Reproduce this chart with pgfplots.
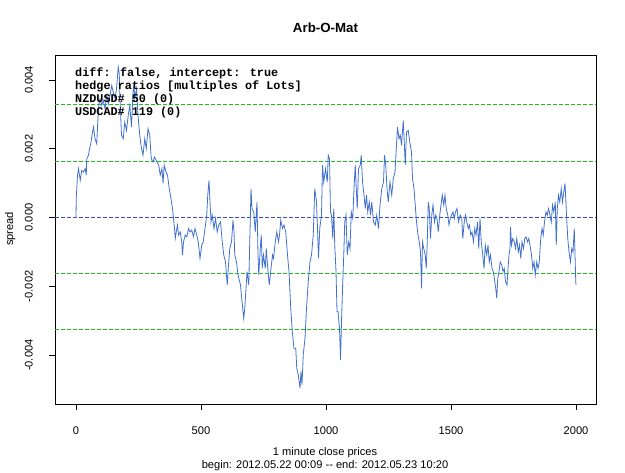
\documentclass[border=0pt]{standalone}
\usepackage{fontspec}
\setmainfont{Liberation Sans}
\newfontfamily\monofont{Liberation Mono}
\usepackage{pgfplots}
\pgfplotsset{compat=1.18}
\definecolor{spreadblue}{RGB}{66,112,205}
\definecolor{bandgreen}{RGB}{30,190,30}
\definecolor{zeroblue}{RGB}{50,80,190}
\begin{document}
\fontsize{11.1bp}{13bp}\selectfont
\begin{tikzpicture}[x=1bp,y=1bp]
\useasboundingbox (0,0) rectangle (625,473);
\begin{axis}[
  at={(55bp,69bp)}, anchor=south west,
  scale only axis, width=541bp, height=349bp,
  xmin=-84, xmax=2080, ymin=-0.005418, ymax=0.004722,
  axis line style={line width=0.8bp, black},
  tick align=outside, tick pos=left,
  major tick length=6bp,
  every tick/.style={black, line width=0.6bp},
  xtick={0,500,1000,1500,2000},
  xticklabels={0,500,1000,1500,2000},
  ytick={-0.004,-0.002,0,0.002,0.004},
  yticklabels={-0.004,-0.002,0.000,0.002,0.004},
  xticklabel style={inner sep=0pt, anchor=north},
  yticklabel style={inner sep=0pt, rotate=90, anchor=south},
  xticklabel shift=17bp,
  yticklabel shift=16bp,
  scaled y ticks=false,
  clip=true,
]
\addplot[color=bandgreen, line width=1.1bp, dash pattern=on 4bp off 2bp, empty line=jump] table {
x y
-84 0.00328
2080 0.00328

-84 0.00163
2080 0.00163

-84 -0.00163
2080 -0.00163

-84 -0.00326
2080 -0.00326
};
\addplot[color=zeroblue, line width=1.1bp, dash pattern=on 4bp off 2bp] coordinates {(-84,0) (2080,0)};
\addplot[color=spreadblue, line width=0.8bp] table {
x y
0 0.00000
1 0.00055
6 0.00123
10 0.00142
17 0.00108
23 0.00137
30 0.00132
37 0.00142
41 0.00123
43 0.00171
50 0.00181
54 0.00200
59 0.00214
64 0.00239
70 0.00263
76 0.00229
83 0.00214
87 0.00277
91 0.00326
96 0.00345
103 0.00326
109 0.00340
116 0.00316
123 0.00355
129 0.00330
136 0.00355
143 0.00384
149 0.00364
156 0.00345
162 0.00374
169 0.00437
173 0.00417
176 0.00345
182 0.00239
189 0.00229
195 0.00277
202 0.00253
209 0.00297
215 0.00326
222 0.00263
228 0.00364
232 0.00384
235 0.00345
242 0.00374
248 0.00297
255 0.00239
262 0.00200
268 0.00181
275 0.00229
281 0.00200
288 0.00258
295 0.00239
301 0.00171
308 0.00161
314 0.00176
324 0.00161
331 0.00152
337 0.00123
344 0.00142
348 0.00099
353 0.00152
360 0.00132
366 0.00123
373 0.00084
380 0.00055
386 0.00026
390 -0.00003
394 -0.00032
397 -0.00061
401 -0.00042
406 -0.00022
410 -0.00051
417 -0.00042
423 -0.00071
426 -0.00109
430 -0.00071
437 -0.00051
443 -0.00056
450 -0.00032
456 -0.00042
463 -0.00037
470 -0.00056
476 -0.00032
483 -0.00051
489 -0.00071
496 -0.00119
503 -0.00080
509 -0.00071
516 -0.00032
523 0.00007
527 0.00065
532 0.00108
536 0.00045
540 -0.00013
545 0.00007
552 -0.00032
558 -0.00003
565 -0.00042
571 -0.00022
578 -0.00013
585 -0.00071
591 -0.00109
598 -0.00129
605 -0.00196
609 -0.00148
615 -0.00090
622 -0.00071
628 -0.00008
632 -0.00042
635 -0.00109
642 -0.00129
648 -0.00167
658 -0.00196
664 -0.00244
671 -0.00293
675 -0.00264
680 -0.00206
684 -0.00157
691 -0.00196
695 -0.00071
700 0.00084
704 0.00026
711 0.00016
717 -0.00042
724 0.00045
728 -0.00109
731 -0.00167
737 -0.00090
741 -0.00051
745 -0.00148
750 -0.00109
757 -0.00148
761 -0.00090
766 -0.00138
773 -0.00196
780 -0.00148
786 -0.00109
790 -0.00119
797 -0.00071
803 -0.00042
810 -0.00071
814 -0.00051
819 -0.00008
826 -0.00032
832 -0.00022
839 -0.00042
846 -0.00109
852 -0.00157
859 -0.00264
865 -0.00331
872 -0.00380
879 -0.00380
883 -0.00438
889 -0.00457
896 -0.00496
900 -0.00447
904 -0.00486
909 -0.00399
916 -0.00351
922 -0.00264
929 -0.00186
936 -0.00129
942 -0.00109
949 -0.00051
955 0.00084
962 0.00045
966 -0.00032
970 -0.00119
975 -0.00032
982 0.00007
986 0.00152
991 0.00103
998 0.00142
1005 0.00103
1009 0.00181
1014 0.00171
1018 0.00016
1022 0.00007
1027 -0.00061
1031 0.00026
1035 -0.00080
1040 -0.00157
1044 -0.00273
1048 -0.00273
1054 -0.00322
1058 -0.00414
1062 -0.00302
1067 -0.00186
1071 -0.00109
1075 -0.00013
1080 0.00007
1085 -0.00109
1091 -0.00071
1096 -0.00090
1101 0.00016
1107 -0.00003
1112 0.00084
1117 0.00152
1121 0.00084
1125 0.00026
1130 0.00142
1137 0.00152
1141 0.00181
1146 0.00103
1152 0.00065
1157 0.00026
1162 0.00065
1167 0.00016
1173 0.00045
1178 0.00007
1183 0.00045
1190 -0.00013
1197 -0.00022
1203 0.00007
1210 -0.00032
1216 0.00036
1223 0.00084
1230 0.00103
1234 0.00181
1239 0.00152
1244 0.00084
1249 0.00045
1256 0.00103
1263 0.00065
1269 0.00113
1276 0.00132
1281 0.00200
1286 0.00263
1292 0.00229
1297 0.00239
1302 0.00210
1309 0.00282
1313 0.00219
1317 0.00152
1322 0.00248
1329 0.00253
1335 0.00220
1342 0.00190
1346 0.00113
1352 0.00084
1357 0.00036
1362 -0.00013
1368 -0.00051
1373 -0.00071
1378 -0.00100
1382 -0.00206
1386 -0.00071
1391 -0.00090
1397 -0.00109
1401 -0.00148
1405 -0.00071
1409 0.00045
1413 0.00026
1418 -0.00061
1423 0.00007
1428 0.00036
1434 -0.00013
1439 0.00007
1444 -0.00003
1449 -0.00042
1455 0.00007
1460 0.00036
1465 0.00065
1471 0.00036
1476 0.00065
1481 0.00026
1487 0.00007
1492 -0.00022
1497 -0.00003
1502 0.00007
1508 0.00016
1513 -0.00003
1518 0.00016
1524 0.00026
1530 -0.00013
1537 0.00007
1543 -0.00003
1547 -0.00061
1553 -0.00013
1558 0.00007
1563 -0.00013
1569 -0.00032
1574 -0.00022
1579 -0.00051
1584 -0.00042
1590 -0.00071
1595 -0.00032
1600 -0.00051
1606 -0.00013
1611 -0.00090
1616 -0.00003
1621 -0.00071
1627 -0.00109
1632 -0.00148
1637 -0.00080
1643 -0.00109
1648 -0.00080
1653 -0.00129
1658 -0.00109
1664 -0.00148
1669 -0.00157
1679 -0.00206
1683 -0.00235
1687 -0.00177
1692 -0.00157
1697 -0.00129
1703 -0.00138
1708 -0.00157
1713 -0.00148
1718 -0.00186
1724 -0.00196
1728 -0.00148
1732 -0.00109
1736 -0.00090
1738 -0.00027
1742 -0.00080
1747 -0.00061
1753 -0.00071
1758 -0.00090
1763 -0.00061
1769 -0.00100
1774 -0.00080
1779 -0.00119
1784 -0.00071
1790 -0.00090
1795 -0.00061
1800 -0.00056
1806 -0.00071
1811 -0.00061
1816 -0.00080
1822 -0.00109
1827 -0.00148
1832 -0.00129
1837 -0.00167
1843 -0.00129
1848 -0.00148
1853 -0.00129
1859 -0.00061
1864 -0.00032
1869 -0.00051
1874 -0.00013
1880 0.00016
1885 0.00007
1890 0.00026
1896 0.00007
1901 -0.00013
1906 0.00036
1911 0.00016
1917 0.00045
1921 -0.00080
1925 0.00026
1930 0.00065
1935 0.00045
1941 0.00084
1946 0.00045
1951 0.00074
1956 0.00099
1962 0.00007
1967 -0.00061
1972 -0.00100
1978 -0.00129
1983 -0.00090
1988 -0.00100
1993 -0.00032
1996 -0.00109
1999 -0.00186
2000 -0.00196
};
\end{axis}
% title and axis titles
\node[anchor=base, font=\fontsize{13.3bp}{15bp}\selectfont\bfseries] at (325.5,440) {Arb-O-Mat};
\node[rotate=90, anchor=center] at (10.3,244) {spread};
\node[anchor=base] at (325,17) {1 minute close prices};
\node[anchor=base] at (325,4.7) {begin: 2012.05.22 00:09 -{}- end: 2012.05.23 10:20};
% annotation block
\begin{scope}[every node/.style={anchor=base west, inner sep=0pt, font=\fontsize{11.8bp}{13bp}\monofont\bfseries}]
\node at (75,396.3) {diff: false, intercept: true};
\node at (75,383.4) {hedge ratios [multiples of Lots]};
\node at (75,370) {NZDUSD\# 50 (0)};
\node at (75,357) {USDCAD\# 119 (0)};
\end{scope}
\end{tikzpicture}
\end{document}
